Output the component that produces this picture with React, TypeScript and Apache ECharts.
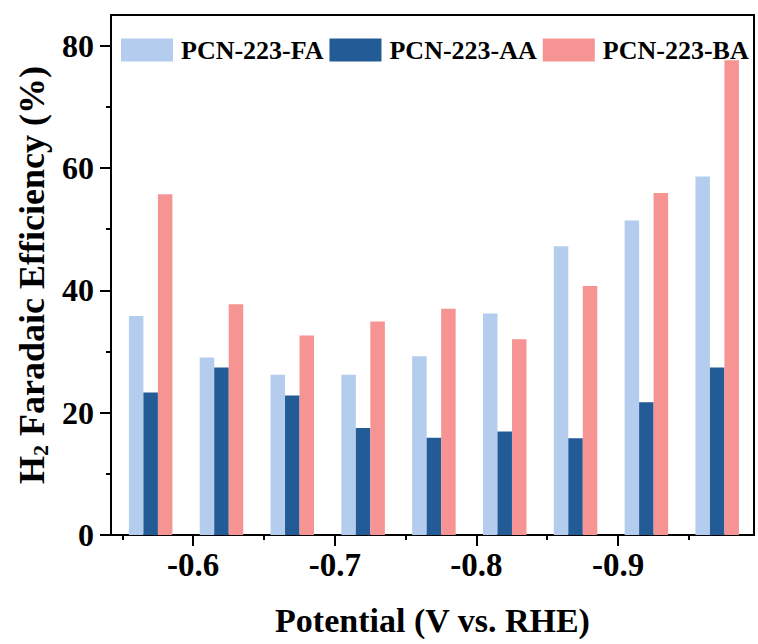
import React, { useEffect, useRef } from "react";
import * as echarts from "echarts";

const potentials = [-0.57, -0.62, -0.67, -0.72, -0.77, -0.82, -0.87, -0.92, -0.97];
const faValues = [35.8, 29.0, 26.2, 26.2, 29.2, 36.2, 47.2, 51.4, 58.6];
const aaValues = [23.3, 27.4, 22.8, 17.5, 15.9, 16.9, 15.8, 21.7, 27.4];
const baValues = [55.7, 37.7, 32.6, 34.9, 37.0, 32.0, 40.7, 55.9, 77.6];
const seriesNames = ["PCN-223-FA", "PCN-223-AA", "PCN-223-BA"];
const xMajorTicks = [-0.6, -0.7, -0.8, -0.9];
const xMinorTicks = [-0.55, -0.65, -0.75, -0.85, -0.95];
const yMajorTicks = [0, 20, 40, 60, 80];
const yMinorTicks = [10, 30, 50, 70];

const FONT = "'Times New Roman', 'Liberation Serif', serif";
const colors = ["#B4CDEE", "#225B95", "#F69393"];

export default function App() {
  const ref = useRef<HTMLDivElement>(null);
  useEffect(() => {
    if (!ref.current) return;
    const chart = echarts.init(ref.current, undefined, { renderer: "svg" });
    const xMin = -0.996;
    const xMax = -0.542;
    const allValues = [faValues, aaValues, baValues];
    chart.setOption({
      animation: false,
      backgroundColor: "#fff",
      grid: {
        left: 111,
        top: 15,
        right: 4,
        bottom: 109,
        show: true,
        borderColor: "#000",
        borderWidth: 2,
        backgroundColor: "transparent",
      },
      legend: {
        left: 116,
        top: 32,
        width: 660,
        itemWidth: 52,
        itemHeight: 23,
        itemGap: 6,
        icon: "rect",
        data: seriesNames,
        textStyle: { fontFamily: FONT, fontWeight: "bold", fontSize: 26, color: "#000", padding: [0, 0, 0, 3] },
      },
      xAxis: [
        {
          type: "value",
          min: xMin,
          max: xMax,
          inverse: true,
          position: "bottom",
          name: "Potential (V vs. RHE)",
          nameLocation: "middle",
          nameGap: 68,
          nameTextStyle: { fontFamily: FONT, fontWeight: "bold", fontSize: 34, color: "#000" },
          axisLine: { show: true, lineStyle: { color: "#000", width: 2 } },
          axisTick: { show: true, inside: false, length: 11, lineStyle: { color: "#000", width: 2 }, customValues: xMajorTicks },
          axisLabel: {
            show: true,
            customValues: xMajorTicks,
            margin: 13,
            fontFamily: FONT,
            fontWeight: "bold",
            fontSize: 33,
            color: "#000",
            formatter: (v: number) => v.toFixed(1),
          },
          splitLine: { show: false },
        },
        {
          type: "value",
          min: xMin,
          max: xMax,
          inverse: true,
          position: "bottom",
          offset: 0,
          axisLine: { show: false },
          axisTick: { show: true, inside: false, length: 5, lineStyle: { color: "#000", width: 2 }, customValues: xMinorTicks },
          axisLabel: { show: false },
          splitLine: { show: false },
        },
      ],
      yAxis: [
        {
          type: "value",
          min: 0,
          max: 85,
          position: "left",
          name: "{m|H}{s|2}{m| Faradaic Efficiency (%)}",
          nameLocation: "middle",
          nameRotate: 90,
          nameGap: 53,
          nameTextStyle: {
            fontFamily: FONT,
            fontWeight: "bold",
            fontSize: 36,
            color: "#000",
            rich: {
              m: { fontFamily: FONT, fontWeight: "bold", fontSize: 36, color: "#000" },
              s: { fontFamily: FONT, fontWeight: "bold", fontSize: 22, color: "#000", padding: [16, 0, 0, 0] },
            },
          },
          axisLine: { show: true, lineStyle: { color: "#000", width: 2 } },
          axisTick: { show: true, inside: false, length: 11, lineStyle: { color: "#000", width: 2 }, customValues: yMajorTicks },
          axisLabel: {
            show: true,
            customValues: yMajorTicks,
            margin: 17,
            fontFamily: FONT,
            fontWeight: "bold",
            fontSize: 32,
            color: "#000",
          },
          splitLine: { show: false },
        },
        {
          type: "value",
          min: 0,
          max: 85,
          position: "left",
          offset: 0,
          axisLine: { show: false },
          axisTick: { show: true, inside: false, length: 5, lineStyle: { color: "#000", width: 2 }, customValues: yMinorTicks },
          axisLabel: { show: false },
          splitLine: { show: false },
        },
      ],
      series: seriesNames.map((name, i) => ({
        name,
        type: "bar",
        xAxisIndex: 0,
        yAxisIndex: 0,
        barWidth: 14.5,
        barGap: "0%",
        itemStyle: { color: colors[i] },
        data: potentials.map((p, j) => [p, allValues[i][j]]),
      })),
    });
    return () => chart.dispose();
  }, []);
  return (
    <div
      ref={ref}
      style={{ position: "fixed", left: 0, top: 0, width: 758, height: 644, background: "#fff" }}
    />
  );
}
